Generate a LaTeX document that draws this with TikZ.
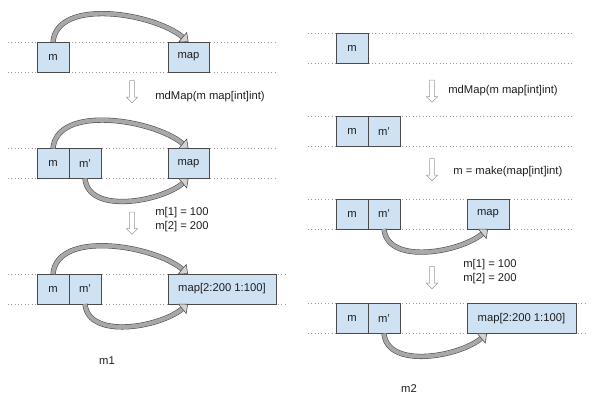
\documentclass[tikz,border=0pt]{standalone}
\usepackage{fontspec}
\setmainfont{Liberation Sans}
\definecolor{mpBlue}{HTML}{CFE2F3}
\definecolor{mpLine}{HTML}{4A4A4A}
\definecolor{mpGuide}{HTML}{9A9A9A}
\definecolor{mpArrow}{HTML}{A8A8A8}
\definecolor{mpText}{HTML}{1E1E1E}
\usepackage{tikz}
\usetikzlibrary{positioning,arrows.meta,shapes.arrows}

\tikzset{
  cell/.style={draw=mpLine, fill=mpBlue, line width=0.5pt, minimum height=0.75cm,
    minimum width=0.8cm, inner sep=0pt, outer sep=0pt, text=mpText,
    font=\fontsize{8}{9.5}\selectfont},
  guide/.style={draw=mpGuide, dotted, line width=0.4pt},
  swoop/.style={draw=black!70, line width=0.4pt, double=mpArrow, double distance=2.9pt,
    -{Triangle[length=5.5pt, width=9.5pt, fill=mpArrow!50]}},
  downarrow/.style={single arrow, draw=mpGuide, fill=white, rotate=-90,
    minimum height=0.55cm, inner sep=1.5pt, single arrow head extend=2.2pt},
  note/.style={anchor=west, inner sep=0pt, text=mpText, align=left,
    font=\fontsize{8}{9.5}\selectfont}
}

\begin{document}
\begin{tikzpicture}
  \useasboundingbox (0,0) rectangle (15,10);

  % m1 : step 1
  \draw[guide] (0.2, 8.95) -- (6.875, 8.95);
  \draw[guide] (0.2, 8.2) -- (6.875, 8.2);
  \node[cell] (lm1) at (1.325, 8.575) {m};
  \node[cell, minimum width=1.025cm] (lmap1) at (4.7125, 8.575) {map};
  \draw[swoop] (lm1.north) to[out=85, in=140, looseness=0.85] (lmap1.north);

  \node[downarrow] (ldown1) at (3.3, 7.7375) {};
  \node[note] (lcall) at (3.875, 7.575) {mdMap(m map[int]int)};

  % m1 : step 2
  \draw[guide] (0.2, 6.2875) -- (6.875, 6.2875);
  \draw[guide] (0.2, 5.5375) -- (6.875, 5.5375);
  \node[cell] (lm2) at (1.325, 5.9125) {m};
  \node[cell, right=0pt of lm2] (lmp2) {m'};
  \node[cell, minimum width=1.025cm] (lmap2) at (4.7125, 5.9125) {map};
  \draw[swoop] (lm2.north) to[out=85, in=140, looseness=0.85] (lmap2.north);
  \draw[swoop] (lmp2.south) to[out=-85, in=-140, looseness=0.9] (lmap2.south);

  \node[downarrow] (ldown2) at (3.3, 4.45) {};
  \node[note] (lset) at (3.875, 4.5125) {m[1] = 100\\m[2] = 200};

  % m1 : step 3
  \draw[guide] (0.2, 3.15) -- (7.125, 3.15);
  \draw[guide] (0.2, 2.4) -- (7.125, 2.4);
  \node[cell] (lm3) at (1.325, 2.775) {m};
  \node[cell, right=0pt of lm3] (lmp3) {m'};
  \node[cell, minimum width=2.7cm] (lmap3) at (5.55, 2.775) {map[2:200 1:100]};
  \draw[swoop] (lm3.north) to[out=85, in=140, looseness=0.85] ([xshift=0.5cm]lmap3.north west);
  \draw[swoop] (lmp3.south) to[out=-85, in=-140, looseness=0.9] ([xshift=0.5cm]lmap3.south west);

  \node[note, anchor=center] (ltitle) at (2.675, 0.975) {m1};

  % m2 : step 1
  \draw[guide] (7.7, 9.175) -- (14.35, 9.175);
  \draw[guide] (7.7, 8.425) -- (14.35, 8.425);
  \node[cell] (rm1) at (8.8, 8.8) {m};

  \node[downarrow] (rdown1) at (10.8, 7.75) {};
  \node[note] (rcall) at (11.2, 7.725) {mdMap(m map[int]int)};

  % m2 : step 2
  \draw[guide] (7.7, 7.0875) -- (14.35, 7.0875);
  \draw[guide] (7.7, 6.3375) -- (14.35, 6.3375);
  \node[cell] (rm2) at (8.8, 6.7125) {m};
  \node[cell, right=0pt of rm2] (rmp2) {m'};

  \node[downarrow] (rdown2) at (10.8, 5.7875) {};
  \node[note] (rmake) at (11.325, 5.7) {m = make(map[int]int)};

  % m2 : step 3
  \draw[guide] (7.7, 5.025) -- (14.35, 5.025);
  \draw[guide] (7.7, 4.275) -- (14.35, 4.275);
  \node[cell] (rm3) at (8.8, 4.65) {m};
  \node[cell, right=0pt of rm3] (rmp3) {m'};
  \node[cell, minimum width=1.05cm] (rmap3) at (12.2, 4.65) {map};
  \draw[swoop] (rmp3.south) to[out=-85, in=-140, looseness=0.9] (rmap3.south);

  \node[downarrow] (rdown3) at (10.8, 3.0875) {};
  \node[note] (rset) at (11.575, 3.2125) {m[1] = 100\\m[2] = 200};

  % m2 : step 4
  \draw[guide] (7.7, 2.4125) -- (14.65, 2.4125);
  \draw[guide] (7.7, 1.6625) -- (14.65, 1.6625);
  \node[cell] (rm4) at (8.8, 2.0375) {m};
  \node[cell, right=0pt of rm4] (rmp4) {m'};
  \node[cell, minimum width=2.725cm] (rmap4) at (13.0375, 2.0375) {map[2:200 1:100]};
  \draw[swoop] (rmp4.south) to[out=-85, in=-140, looseness=0.9] ([xshift=0.5cm]rmap4.south west);

  \node[note, anchor=center] (rtitle) at (10.225, 0.275) {m2};
\end{tikzpicture}
\end{document}
